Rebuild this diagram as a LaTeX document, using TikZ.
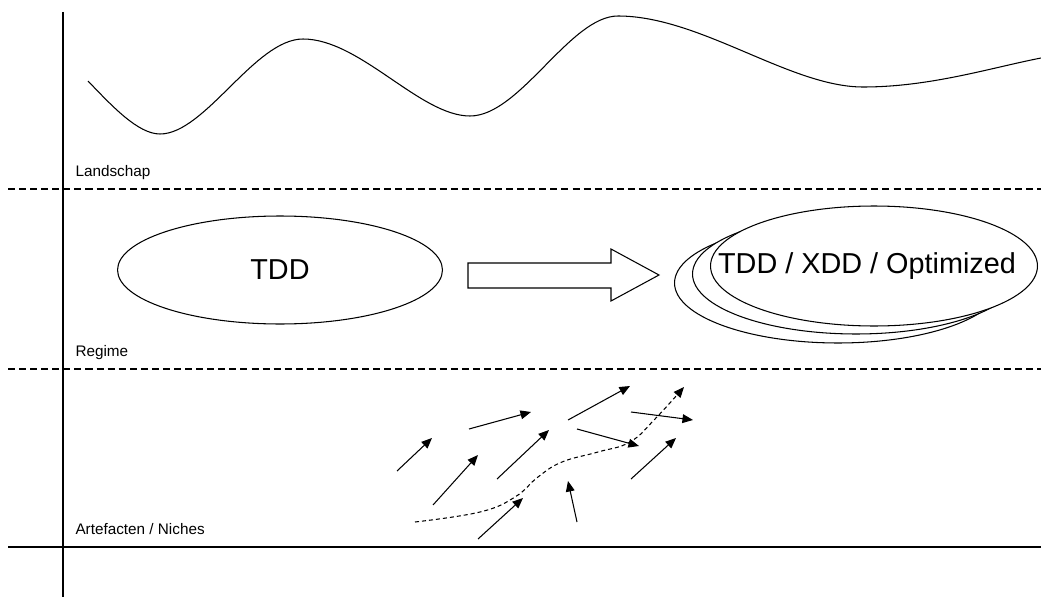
\documentclass[tikz,border=0pt]{standalone}
\usepackage{fontspec}
\setmainfont{Liberation Sans}
\usetikzlibrary{shapes.geometric,arrows.meta}

\begin{document}
\begin{tikzpicture}[x=0.02cm, y=-0.02cm, line width=0.6pt,
    >={Triangle[length=6pt,width=5pt]},
    layer/.style={font=\fontsize{8.7}{10}\selectfont, anchor=base west, inner sep=0pt},
    bubble/.style={draw, fill=white, ellipse, inner sep=0pt, font=\fontsize{16.4}{19}\selectfont},
    sep/.style={dash pattern=on 4pt off 2.3pt}]
    \useasboundingbox (0,0) rectangle (1041,598);

    % Axes and layer borders
    \draw (63,12) -- (63,597);
    \draw[sep] (8,189) -- (1041,189);
    \draw[sep] (8,369) -- (1041,369);
    \draw (8,547) -- (1041,547);

    % Layer names
    \node[layer] (landschap) at (75,176) {Landschap};
    \node[layer] (regime) at (75,356) {Regime};
    \node[layer] (niches) at (75,534) {Artefacten / Niches};

    % Landscape wave
    \draw (88,81) .. controls (112,106) and (138,134) .. (160,134)
        .. controls (205,134) and (255,39) .. (303,39)
        .. controls (360,39) and (420,116) .. (470,116)
        .. controls (520,116) and (570,16) .. (618,16)
        .. controls (700,16) and (790,87) .. (863,87)
        .. controls (930,87) and (990,68) .. (1041,58);

    % Regime: old
    \node[bubble, minimum width=6.5cm, minimum height=2.16cm] (tdd) at (280,270) {\raisebox{-0.12cm}{TDD}};

    % Transition arrow
    \draw (468,263) -- (611,263) -- (611,249) -- (659,275) -- (611,301) -- (611,288) -- (468,288) -- cycle;

    % Regime: new (stacked)
    \node[bubble, minimum width=6.54cm, minimum height=2.4cm] (stackC) at (838,283) {};
    \node[bubble, minimum width=6.54cm, minimum height=2.4cm] (stackB) at (856,274) {};
    \node[bubble, minimum width=6.54cm, minimum height=2.4cm] (stackA) at (874,266)
        {\makebox[0pt]{\hspace{-0.28cm}TDD / XDD / Optimized}};

    % Niche arrows
    \foreach \xa/\ya/\xb/\yb in {397/471/432/438, 469/429/531/412, 433/505/478/455,
        497/479/549/430, 568/420/630/386, 577/429/639/446,
        631/412/693/420, 631/479/676/438, 478/539/523/498, 577/522/568/481}
        \draw[->] (\xa,\ya) -- (\xb,\yb);

    % Breakthrough path
    \draw[->, dash pattern=on 2.3pt off 1.7pt] plot[smooth, tension=0.7] coordinates
        {(415,522) (480,512) (515,497) (538,477) (562,462) (598,452) (630,442) (655,419) (684,387)};
\end{tikzpicture}
\end{document}
